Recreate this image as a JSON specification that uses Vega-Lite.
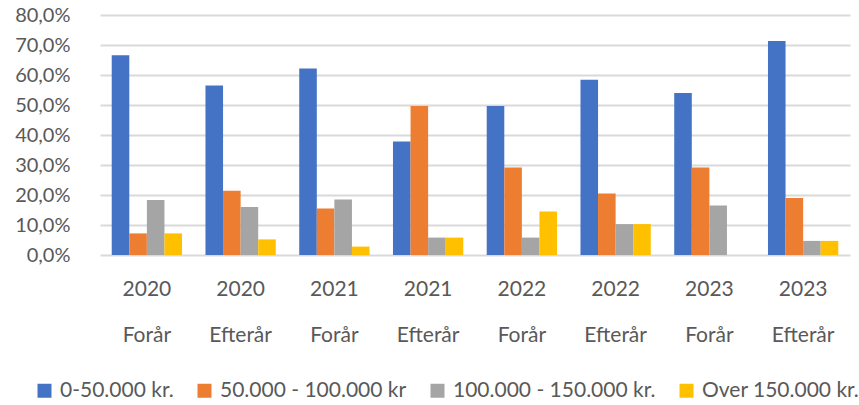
{
  "$schema": "https://vega.github.io/schema/vega-lite/v6.json",
  "autosize": "none",
  "width": 750,
  "height": 240,
  "padding": {"left": 100, "top": 15, "right": 9, "bottom": 150},
  "config": {
    "locale": {"number": {"decimal": ",", "thousands": ".", "grouping": [3], "currency": ["", " kr."]}},
    "font": "Lato",
    "view": {"stroke": null}
  },
  "data": {
    "values": [
      {"period": "2020|Forår", "series": "0-50.000 kr.", "value": 0.666},
      {"period": "2020|Forår", "series": "50.000 - 100.000 kr", "value": 0.072},
      {"period": "2020|Forår", "series": "100.000 - 150.000 kr.", "value": 0.183},
      {"period": "2020|Forår", "series": "Over 150.000 kr.", "value": 0.072},
      {"period": "2020|Efterår", "series": "0-50.000 kr.", "value": 0.565},
      {"period": "2020|Efterår", "series": "50.000 - 100.000 kr", "value": 0.214},
      {"period": "2020|Efterår", "series": "100.000 - 150.000 kr.", "value": 0.160},
      {"period": "2020|Efterår", "series": "Over 150.000 kr.", "value": 0.052},
      {"period": "2021|Forår", "series": "0-50.000 kr.", "value": 0.622},
      {"period": "2021|Forår", "series": "50.000 - 100.000 kr", "value": 0.155},
      {"period": "2021|Forår", "series": "100.000 - 150.000 kr.", "value": 0.185},
      {"period": "2021|Forår", "series": "Over 150.000 kr.", "value": 0.028},
      {"period": "2021|Efterår", "series": "0-50.000 kr.", "value": 0.378},
      {"period": "2021|Efterår", "series": "50.000 - 100.000 kr", "value": 0.497},
      {"period": "2021|Efterår", "series": "100.000 - 150.000 kr.", "value": 0.058},
      {"period": "2021|Efterår", "series": "Over 150.000 kr.", "value": 0.058},
      {"period": "2022|Forår", "series": "0-50.000 kr.", "value": 0.497},
      {"period": "2022|Forår", "series": "50.000 - 100.000 kr", "value": 0.292},
      {"period": "2022|Forår", "series": "100.000 - 150.000 kr.", "value": 0.058},
      {"period": "2022|Forår", "series": "Over 150.000 kr.", "value": 0.145},
      {"period": "2022|Efterår", "series": "0-50.000 kr.", "value": 0.584},
      {"period": "2022|Efterår", "series": "50.000 - 100.000 kr", "value": 0.205},
      {"period": "2022|Efterår", "series": "100.000 - 150.000 kr.", "value": 0.103},
      {"period": "2022|Efterår", "series": "Over 150.000 kr.", "value": 0.103},
      {"period": "2023|Forår", "series": "0-50.000 kr.", "value": 0.540},
      {"period": "2023|Forår", "series": "50.000 - 100.000 kr", "value": 0.292},
      {"period": "2023|Forår", "series": "100.000 - 150.000 kr.", "value": 0.165},
      {"period": "2023|Forår", "series": "Over 150.000 kr.", "value": 0.0},
      {"period": "2023|Efterår", "series": "0-50.000 kr.", "value": 0.713},
      {"period": "2023|Efterår", "series": "50.000 - 100.000 kr", "value": 0.190},
      {"period": "2023|Efterår", "series": "100.000 - 150.000 kr.", "value": 0.047},
      {"period": "2023|Efterår", "series": "Over 150.000 kr.", "value": 0.047}
    ]
  },
  "mark": {"type": "bar"},
  "encoding": {
    "x": {
      "field": "period",
      "type": "nominal",
      "sort": null,
      "scale": {"paddingInner": 0.25, "paddingOuter": 0.125},
      "axis": {
        "title": null,
        "labelAngle": 0,
        "labelExpr": "split(datum.label, '|')",
        "labelLineHeight": 46,
        "labelFontSize": 21,
        "labelColor": "#595959",
        "labelPadding": 23,
        "ticks": false,
        "domain": false
      }
    },
    "xOffset": {
      "field": "series",
      "type": "nominal",
      "sort": ["0-50.000 kr.", "50.000 - 100.000 kr", "100.000 - 150.000 kr.", "Over 150.000 kr."]
    },
    "y": {
      "field": "value",
      "type": "quantitative",
      "scale": {"domain": [0, 0.8], "nice": false},
      "axis": {
        "title": null,
        "format": ".1%",
        "values": [0, 0.1, 0.2, 0.3, 0.4, 0.5, 0.6, 0.7, 0.8],
        "labelFontSize": 20,
        "labelColor": "#595959",
        "labelPadding": 30,
        "ticks": false,
        "domain": false,
        "gridColor": "#d9d9d9",
        "gridWidth": 2
      }
    },
    "color": {
      "field": "series",
      "type": "nominal",
      "scale": {
        "domain": ["0-50.000 kr.", "50.000 - 100.000 kr", "100.000 - 150.000 kr.", "Over 150.000 kr."],
        "range": ["#4472C4", "#ED7D31", "#A5A5A5", "#FFC000"]
      },
      "legend": {
        "title": null,
        "orient": "none",
        "direction": "horizontal",
        "legendX": -66,
        "legendY": 365,
        "symbolType": "square",
        "symbolSize": 196,
        "symbolStrokeWidth": 0,
        "labelFontSize": 21,
        "labelColor": "#595959",
        "labelOffset": 5,
        "columnPadding": 20,
        "labelLimit": 300
      }
    }
  }
}
